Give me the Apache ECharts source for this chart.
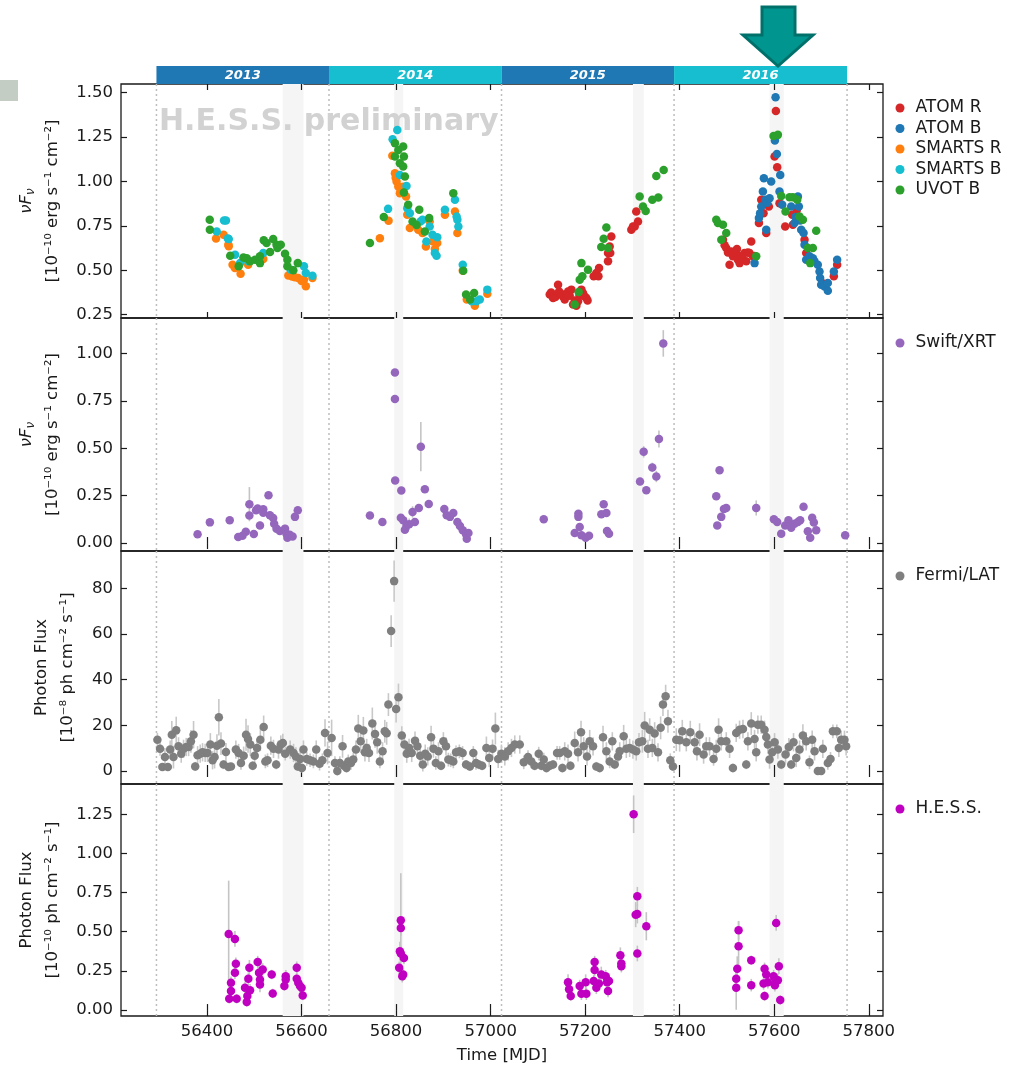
<!DOCTYPE html>
<html>
<head>
<meta charset="utf-8">
<script src="https://cdn.jsdelivr.net/npm/echarts@6/dist/echarts.min.js"></script>
<style>
html, body { margin: 0; padding: 0; background: #fff; }
#main { width: 1017px; height: 1065px; }
</style>
</head>
<body>
<div id="main"></div>
<script>
// x range and ticks (MJD)
var X_MIN = 56218, X_MAX = 57830;
var xTicks = [56400, 56600, 56800, 57000, 57200, 57400, 57600, 57800];
var yearStarts = [56293, 56658, 57023, 57388, 57754];
var yearNames = ['2013', '2014', '2015', '2016'];
var bands = [[56560, 56604], [56796, 56815], [57301, 57324], [57590, 57620]];

var yTicksOpt = [0.25, 0.5, 0.75, 1.0, 1.25, 1.5];
var yTicksXrt = [0, 0.25, 0.5, 0.75, 1.0];
var yTicksLat = [0, 20, 40, 60, 80];
var yTicksHess = [0, 0.25, 0.5, 0.75, 1.0, 1.25];

// optical: [MJD, nuFnu]
var atomR = [
  [57125, 0.363], [57128, 0.375], [57132, 0.344], [57137, 0.35], [57142.6, 0.419], [57144.7, 0.381],
  [57148, 0.37], [57153, 0.353], [57156.7, 0.335], [57160, 0.36], [57163.7, 0.381], [57167.3, 0.357],
  [57170.8, 0.391], [57174.3, 0.307], [57178, 0.33], [57181.4, 0.301], [57184.9, 0.325], [57188, 0.36],
  [57192, 0.391], [57195.4, 0.372], [57199, 0.353], [57202.5, 0.344], [57205, 0.33], [57218, 0.466],
  [57223.6, 0.484], [57228, 0.466], [57229.3, 0.512], [57248.3, 0.55], [57248.3, 0.597], [57251.8, 0.634],
  [57253, 0.597], [57255.3, 0.69], [57297.6, 0.727], [57301, 0.746], [57304.7, 0.746], [57308, 0.83],
  [57311.7, 0.774],
  [57491.4, 0.671], [57495, 0.64], [57498.4, 0.625], [57502, 0.6], [57505.4, 0.531], [57509, 0.606],
  [57512.5, 0.578], [57515, 0.6], [57519.5, 0.597], [57521, 0.62], [57523, 0.559], [57526.6, 0.54],
  [57530, 0.58], [57533.7, 0.559], [57537, 0.597], [57540.7, 0.55], [57544, 0.6], [57547.7, 0.597],
  [57551.3, 0.662], [57554.8, 0.578], [57558, 0.58], [57567.5, 0.765], [57572.4, 0.896], [57577.3, 0.821],
  [57583, 0.709], [57588.6, 0.858], [57600.6, 1.139], [57603.4, 1.395], [57606.2, 1.079], [57611.1, 0.877],
  [57623.1, 0.746], [57637.9, 0.812], [57639.3, 0.756], [57647.8, 0.84], [57664, 0.671], [57667.5, 0.597],
  [57701.3, 0.428], [57726, 0.466], [57733, 0.531]
];
var atomB = [
  [57558.3, 0.54], [57567.5, 0.793], [57570, 0.82], [57572.4, 0.858], [57575.9, 0.943], [57578, 1.017],
  [57581.5, 0.896], [57583, 0.727], [57585, 0.88], [57590, 0.905], [57593.5, 0.999], [57601.3, 1.229],
  [57602.7, 1.472], [57605.5, 1.154], [57611.1, 0.943], [57612.6, 1.036], [57616.8, 0.868], [57635.8, 0.858],
  [57642.8, 0.765], [57645, 0.8], [57649.9, 0.914], [57652, 0.858], [57655, 0.78], [57657, 0.727],
  [57662, 0.709], [57664, 0.643], [57667.5, 0.559], [57674.5, 0.578], [57681.6, 0.568], [57685, 0.55],
  [57692, 0.531], [57695.7, 0.493], [57697, 0.456], [57699.2, 0.419], [57706.3, 0.409], [57713.3, 0.385],
  [57713.3, 0.428], [57726, 0.493], [57733, 0.559]
];
var smartsR = [
  [56419, 0.679], [56435, 0.70], [56445, 0.643], [56446, 0.635], [56454, 0.531], [56459, 0.512],
  [56471, 0.48], [56487, 0.531], [56519, 0.563], [56572, 0.47], [56580, 0.465], [56586, 0.46],
  [56593, 0.456], [56600, 0.44], [56605, 0.447], [56609, 0.41], [56623, 0.456],
  [56765.7, 0.68], [56784, 0.778], [56792, 1.143], [56797.5, 1.045], [56799, 1.02], [56801, 0.999],
  [56804.6, 0.971], [56808, 0.933], [56810, 0.95], [56815, 0.97], [56821, 0.915], [56823.6, 0.812],
  [56829, 0.737], [56846.8, 0.727], [56855.8, 0.709], [56863, 0.634], [56871, 0.774], [56878, 0.662],
  [56882, 0.619], [56887, 0.653], [56903.3, 0.812], [56924.5, 0.83], [56929.6, 0.709], [56941, 0.497],
  [56949.5, 0.335], [56966.5, 0.301], [56993, 0.368]
];
var smartsB = [
  [56420.6, 0.718], [56436, 0.78], [56440, 0.78], [56444, 0.679], [56446, 0.675], [56459.3, 0.587],
  [56470, 0.54], [56487, 0.55], [56519, 0.597], [56577, 0.503], [56605, 0.522], [56609, 0.484],
  [56623, 0.469],
  [56783, 0.845], [56792.6, 1.236], [56802.5, 1.289], [56808, 1.036], [56822, 0.974], [56823.6, 0.849],
  [56829, 0.821], [56851.6, 0.774], [56855.8, 0.784], [56864, 0.662], [56871, 0.746], [56877, 0.70],
  [56882, 0.597], [56885.6, 0.582], [56887, 0.686], [56903.3, 0.84], [56924.5, 0.896], [56928, 0.802],
  [56929.6, 0.784], [56931.7, 0.746], [56941, 0.531], [56960, 0.325], [56970, 0.325], [56977, 0.335],
  [56993, 0.391]
];
var uvotB = [
  [56405.7, 0.784], [56406, 0.727], [56449, 0.582], [56467, 0.522], [56477, 0.572], [56484, 0.568],
  [56491, 0.55], [56501.6, 0.559], [56512, 0.54], [56512, 0.578], [56520, 0.668], [56526, 0.653],
  [56533.2, 0.602], [56540, 0.675], [56547, 0.643], [56549, 0.625], [56556, 0.643], [56565, 0.593],
  [56570, 0.559], [56570, 0.522], [56582.5, 0.5], [56592, 0.54],
  [56744.6, 0.653], [56774, 0.799], [56797.5, 1.214], [56797.5, 1.139], [56804.6, 1.176], [56808, 1.102],
  [56815, 1.195], [56816.5, 1.139], [56815, 1.083], [56818.6, 1.027], [56816.5, 0.937], [56825.6, 0.868],
  [56834.8, 0.774], [56843.3, 0.755], [56849, 0.84], [56860.8, 0.718], [56870, 0.793], [56921, 0.933],
  [56942, 0.497], [56948, 0.363], [56956.6, 0.335], [56965, 0.372],
  [57177.8, 0.307], [57186.3, 0.377], [57188.4, 0.447], [57192, 0.54], [57194, 0.466], [57206, 0.503],
  [57234, 0.63], [57239.1, 0.677], [57244.8, 0.74], [57248.3, 0.625], [57315.2, 0.914], [57322.3, 0.858],
  [57328, 0.833], [57342, 0.896], [57350.5, 1.03], [57354.7, 0.909], [57366, 1.064],
  [57477.3, 0.784], [57480.8, 0.765], [57488, 0.671], [57491.4, 0.756], [57498.4, 0.709], [57561.8, 0.578],
  [57598.5, 1.255], [57607.6, 1.261], [57614.7, 0.918], [57623.8, 0.83], [57632.3, 0.911], [57639.3, 0.911],
  [57648.5, 0.896], [57653.4, 0.802], [57660.5, 0.784], [57671, 0.625], [57676, 0.54], [57681.6, 0.625],
  [57688.7, 0.722]
];

// X-ray: [MJD, nuFnu, err]
var xrt = [
  [56380, 0.046, 0.01], [56406, 0.109, 0.01], [56448, 0.12, 0.01], [56466, 0.032, 0.01], [56475, 0.039, 0.01],
  [56482, 0.06, 0.01], [56489.6, 0.205, 0.09], [56489.6, 0.145, 0.02], [56499, 0.048, 0.01], [56503.7, 0.173, 0.02],
  [56507, 0.182, 0.02], [56512, 0.093, 0.02], [56519, 0.178, 0.02], [56519, 0.16, 0.02], [56530, 0.252, 0.02],
  [56533, 0.146, 0.02], [56540, 0.132, 0.02], [56542, 0.102, 0.02], [56547, 0.076, 0.02], [56554, 0.063, 0.01],
  [56565, 0.076, 0.02], [56568, 0.049, 0.01], [56570, 0.028, 0.01], [56575, 0.044, 0.01], [56581, 0.035, 0.01],
  [56586, 0.138, 0.02], [56592, 0.173, 0.02],
  [56744.6, 0.145, 0.01], [56771, 0.111, 0.01], [56797.5, 0.9, 0.01], [56797.5, 0.76, 0.01], [56798, 0.33, 0.01],
  [56811, 0.277, 0.01], [56810, 0.134, 0.01], [56815, 0.12, 0.01], [56818.6, 0.07, 0.01], [56822, 0.093, 0.01],
  [56827.6, 0.099, 0.03], [56834.8, 0.164, 0.03], [56839.7, 0.111, 0.02], [56848, 0.185, 0.02], [56852.3, 0.508, 0.13],
  [56860.8, 0.284, 0.01], [56869, 0.206, 0.01], [56902, 0.18, 0.01], [56907, 0.146, 0.01], [56914, 0.138, 0.01],
  [56921, 0.159, 0.01], [56929.6, 0.111, 0.01], [56935, 0.09, 0.02], [56941, 0.067, 0.02], [56948, 0.046, 0.01],
  [56953, 0.053, 0.01], [56949.5, 0.023, 0.01],
  [57112.3, 0.125, 0.01], [57177.8, 0.053, 0.01], [57185.6, 0.155, 0.01], [57185.6, 0.138, 0.01], [57188.4, 0.085, 0.01],
  [57192, 0.041, 0.01], [57201, 0.028, 0.01], [57208.1, 0.039, 0.01], [57234.2, 0.152, 0.01], [57239.1, 0.205, 0.01],
  [57244.8, 0.159, 0.01], [57246.2, 0.063, 0.01], [57250.4, 0.049, 0.01], [57316, 0.325, 0.02], [57323.7, 0.481, 0.03],
  [57329.3, 0.279, 0.01], [57342, 0.399, 0.025], [57350.5, 0.351, 0.03], [57356, 0.549, 0.045], [57365.2, 1.053, 0.07],
  [57477.3, 0.247, 0.01], [57479.4, 0.093, 0.01], [57484.3, 0.384, 0.01], [57487.8, 0.138, 0.01], [57493.5, 0.18, 0.01],
  [57498.4, 0.185, 0.01], [57561.8, 0.185, 0.04], [57599.2, 0.125, 0.01], [57606.2, 0.111, 0.01], [57614.7, 0.049, 0.01],
  [57623.1, 0.093, 0.01], [57630, 0.12, 0.01], [57635.8, 0.081, 0.01], [57642.8, 0.102, 0.01], [57649.9, 0.111, 0.01],
  [57654.8, 0.12, 0.01], [57661.9, 0.192, 0.01], [57671, 0.062, 0.01], [57676, 0.028, 0.01], [57680.2, 0.134, 0.01],
  [57683.7, 0.108, 0.01], [57688.7, 0.067, 0.01], [57750, 0.041, 0.01]
];

// Fermi/LAT: [MJD, flux, err]
var fermi = [
  [56295, 13.7, 3], [56300.6, 9.7, 3], [56305.6, 1.8, 1.5], [56311, 6.1, 4], [56317, 1.8, 1.5], [56322, 9.4, 4],
  [56325.5, 15.9, 6], [56329, 6.1, 5], [56334.8, 17.8, 6], [56339.7, 10.8, 4], [56345.4, 7.6, 4], [56350.3, 9.7, 4],
  [56356, 10.5, 4], [56361, 10.5, 4], [56366, 13, 5], [56371.5, 15.9, 6], [56375, 2, 2], [56380, 6.9, 4],
  [56385.6, 7.6, 4], [56390.5, 8.2, 4], [56396, 7.9, 4], [56401, 7.9, 4], [56407, 11.6, 5], [56411.7, 4.7, 4],
  [56416, 6.1, 5], [56421, 11.1, 5], [56425, 23.5, 8], [56429.5, 12, 5], [56435, 2.8, 2], [56440, 8.3, 4],
  [56445.6, 1.8, 1.5], [56450.6, 2, 1.5], [56461, 9.4, 4], [56466.8, 7.9, 4], [56471.8, 3.5, 3], [56477.5, 6.7, 4],
  [56482.5, 15.9, 7], [56486.7, 14, 6], [56491.6, 11.6, 5], [56496.6, 2.3, 2], [56500.8, 6.7, 4], [56505.7, 10.1, 4],
  [56512.8, 13.7, 5], [56519.8, 19.3, 5], [56523.4, 4.2, 3], [56528, 4.7, 3], [56535, 11.1, 4], [56540.6, 9.7, 4],
  [56546.3, 2.8, 2], [56551.2, 9.4, 4], [56556, 11.6, 4], [56560.4, 12.3, 4], [56565.4, 7.6, 3], [56575.9, 9.4, 4],
  [56583, 7.9, 4], [56588, 6.4, 4], [56592, 2, 2], [56597, 5.3, 4], [56600.6, 1.3, 2], [56604, 9.4, 4],
  [56611, 5.3, 3], [56618, 4.7, 3], [56625, 4.2, 3], [56631, 9.4, 4], [56638, 3.2, 3], [56644, 4.7, 3],
  [56649.6, 16.7, 6], [56655, 7.9, 5], [56663.6, 14.5, 8], [56670.6, 3.5, 3], [56675.6, 0, 2], [56681, 3.5, 3],
  [56686.7, 10.8, 5], [56690, 2.3, 2], [56695, 1.3, 2], [56698.8, 4.2, 3], [56704.4, 3.5, 3], [56709.4, 5, 3],
  [56715, 9.4, 4], [56720, 18.6, 6], [56725, 13, 5], [56730.7, 17.7, 6], [56734, 8.2, 4], [56737.7, 10.1, 4],
  [56742.6, 7.9, 4], [56749.7, 20.8, 7], [56755.4, 16.2, 6], [56760, 12.6, 5], [56765.7, 4.2, 3], [56771.3, 8.6, 4],
  [56776, 17.4, 5], [56780, 16.5, 5], [56783.7, 29.1, 5], [56789.5, 61.3, 7], [56795.8, 83.2, 9], [56800, 27.2, 6],
  [56805, 32.3, 6], [56812, 15.6, 4], [56817.6, 11.6, 4], [56822.5, 7.6, 4], [56827.4, 10.1, 4], [56833, 7.9, 4],
  [56840, 13.3, 4], [56845, 10.8, 4], [56851, 6.7, 3], [56856.5, 2.8, 3], [56861.6, 7.6, 4], [56867, 6.4, 4],
  [56874, 14.8, 5], [56879, 9.8, 4], [56884, 3.5, 3], [56889.6, 8.6, 4], [56895, 2.3, 2], [56900, 13, 4],
  [56905.5, 10.8, 4], [56910.5, 5, 3], [56915.5, 4.7, 3], [56921, 4.2, 3], [56926.8, 8.2, 3], [56933.8, 8.6, 3],
  [56940.7, 7.9, 3], [56948, 2.8, 2], [56956, 2, 2], [56963.3, 7.9, 3], [56969, 3.5, 3], [56975, 2.8, 2],
  [56982, 2.3, 2], [56991, 10.1, 5], [56997, 5.7, 4], [57004, 9.8, 4], [57010, 18.6, 7], [57016, 5.3, 4],
  [57022.8, 7.6, 4], [57030, 6.4, 4], [57037, 8.6, 4], [57044, 10.1, 4], [57051, 11.6, 4], [57061.6, 11.6, 4],
  [57070, 3.8, 3], [57079, 6.1, 3], [57086, 4.2, 3], [57093, 2.3, 2], [57101.7, 7.6, 3], [57107.4, 2.3, 2],
  [57112.3, 5, 3], [57118, 1.3, 2], [57125, 2.3, 2], [57132, 2.8, 2], [57140.5, 7.9, 3], [57146, 7.9, 3],
  [57151.8, 1.3, 2], [57156.7, 8.6, 4], [57163.7, 7.6, 4], [57168.7, 2.3, 2], [57177.8, 12.3, 5], [57184.9, 8.2, 4],
  [57191.2, 17, 5], [57196.8, 10.8, 4], [57203.9, 6.4, 4], [57209.5, 13, 5], [57216.6, 10.8, 4], [57223.6, 2, 2],
  [57230.7, 1.3, 2], [57237.7, 14.8, 5], [57244.8, 8.6, 4], [57251.8, 4.2, 3], [57257.4, 13, 4], [57262.4, 2.8, 2],
  [57269.4, 6.4, 4], [57273, 8.6, 4], [57281.4, 15.2, 5], [57287, 9.7, 4], [57294, 10.1, 4], [57301, 9.4, 4],
  [57308, 8.6, 4], [57313.8, 12.6, 4], [57320.9, 13, 5], [57325.8, 19.9, 6], [57332.8, 9.7, 4], [57336.4, 18.1, 5],
  [57342, 10.1, 4], [57346.9, 16.4, 5], [57354, 8.2, 4], [57359.6, 18.9, 5], [57364.5, 29.1, 5], [57370.2, 32.8, 5],
  [57375.1, 21.8, 5], [57380, 4.7, 3], [57385.7, 2, 2], [57392.7, 13.7, 5], [57399.8, 13.5, 5], [57405.4, 17.4, 5],
  [57413.9, 12.6, 4], [57422.3, 17, 5], [57431.5, 12.6, 4], [57436.4, 8.6, 4], [57442, 15.9, 5], [57450.5, 7.2, 4],
  [57456.1, 10.8, 4], [57463, 10.8, 4], [57471.6, 5.3, 3], [57477.3, 9.7, 4], [57482.2, 18.1, 5], [57487.8, 13, 4],
  [57498.4, 13, 4], [57505.5, 9.7, 4], [57512.5, 1.3, 2], [57519.5, 16.7, 4], [57526.6, 18.1, 4], [57533.7, 18.4, 4],
  [57540.7, 2.8, 2], [57544.2, 13, 4], [57551.3, 20.8, 5], [57558.3, 14, 4], [57561.8, 8.2, 4], [57565.3, 20.3, 4],
  [57572.4, 20.3, 4], [57579.4, 18.1, 4], [57583, 14.9, 4], [57586.5, 11.6, 4], [57590, 5, 4], [57595.6, 8.2, 4],
  [57600.6, 12.6, 4], [57607.6, 9.4, 4], [57614.7, 2.8, 2], [57623.8, 7.2, 4], [57630.8, 10.5, 4], [57635.8, 2.8, 2],
  [57640.7, 12.6, 4], [57646.4, 5.7, 4], [57653.4, 9.4, 4], [57660.5, 15.5, 5], [57667.5, 13, 4], [57674.5, 3.8, 3],
  [57680.2, 13.7, 4], [57685.2, 8.6, 4], [57692.2, 0, 1], [57699.2, 0, 1], [57702.7, 9.7, 4], [57713.3, 3.5, 3],
  [57719, 5.3, 3], [57724, 17.4, 3], [57732.3, 17.4, 3], [57736.6, 10.1, 4], [57741.5, 13.7, 4], [57748.5, 13.7, 4],
  [57752, 10.8, 4]
];

// H.E.S.S.: [MJD, flux, err]
var hess = [
  [56445.8, 0.486, 0.34], [56447, 0.072, 0.03], [56450.7, 0.174, 0.04], [56450.7, 0.121, 0.04], [56459, 0.454, 0.05],
  [56459, 0.238, 0.04], [56461, 0.295, 0.04], [56462.7, 0.072, 0.03], [56480.4, 0.142, 0.04], [56484, 0.051, 0.03],
  [56485.3, 0.089, 0.04], [56487.4, 0.2, 0.04], [56489.6, 0.27, 0.05], [56491, 0.127, 0.04], [56507.2, 0.306, 0.04],
  [56510, 0.238, 0.04], [56512, 0.195, 0.04], [56512, 0.163, 0.05], [56517.8, 0.259, 0.04], [56536.8, 0.227, 0.03],
  [56539, 0.106, 0.03], [56563.6, 0.153, 0.03], [56566.5, 0.195, 0.06], [56566.5, 0.216, 0.04], [56589.8, 0.27, 0.04],
  [56589.8, 0.2, 0.04], [56593, 0.174, 0.04], [56596.7, 0.153, 0.04], [56600, 0.142, 0.03], [56602.4, 0.093, 0.03],
  [56806.5, 0.27, 0.04], [56810, 0.573, 0.3], [56810, 0.524, 0.05], [56808, 0.376, 0.06], [56810, 0.361, 0.05],
  [56816.5, 0.333, 0.04], [56813, 0.216, 0.04], [56815, 0.227, 0.04],
  [57163.7, 0.178, 0.05], [57165.9, 0.132, 0.04], [57169.4, 0.089, 0.03], [57188.4, 0.153, 0.04], [57192, 0.104, 0.04],
  [57201, 0.178, 0.05], [57202.5, 0.104, 0.04], [57220, 0.306, 0.04], [57220, 0.255, 0.04], [57218, 0.185, 0.04],
  [57223.6, 0.142, 0.04], [57229, 0.17, 0.04], [57234, 0.227, 0.05], [57243.4, 0.216, 0.04], [57246.2, 0.178, 0.04],
  [57248.3, 0.121, 0.04], [57250.4, 0.185, 0.04], [57274.4, 0.35, 0.05], [57276.5, 0.297, 0.04], [57276.5, 0.28, 0.04],
  [57302.5, 1.25, 0.12], [57310.3, 0.726, 0.06], [57306.8, 0.609, 0.08], [57310.3, 0.613, 0.06], [57329.3, 0.535, 0.09],
  [57310.3, 0.361, 0.05],
  [57519.5, 0.2, 0.07], [57519.5, 0.142, 0.14], [57521.7, 0.263, 0.08], [57524.5, 0.407, 0.16], [57524.5, 0.509, 0.06],
  [57551.3, 0.318, 0.03], [57551.3, 0.159, 0.04], [57579.5, 0.263, 0.04], [57583, 0.227, 0.04], [57577.3, 0.17, 0.04],
  [57586.5, 0.178, 0.04], [57579.5, 0.089, 0.03], [57598.5, 0.216, 0.04], [57602.7, 0.195, 0.04], [57607.6, 0.19, 0.04],
  [57601.3, 0.159, 0.04], [57604, 0.556, 0.05], [57609.7, 0.28, 0.05], [57612.6, 0.064, 0.03]
];

var FONT = 'DejaVu Sans';
var INK = '#1a1a1a';

var panels = [
  {top: 84, height: 234, min: 0.2315, max: 1.547, ticks: yTicksOpt, dec: 2, gap: 55,
   name: '{i|νF}{s|ν}\n[10⁻¹⁰ erg s⁻¹ cm⁻²]'},
  {top: 318, height: 233, min: -0.042, max: 1.187, ticks: yTicksXrt, dec: 2, gap: 55,
   name: '{i|νF}{s|ν}\n[10⁻¹⁰ erg s⁻¹ cm⁻²]'},
  {top: 551, height: 233, min: -5.7, max: 96.4, ticks: yTicksLat, dec: 0, gap: 38,
   name: 'Photon Flux\n[10⁻⁸ ph cm⁻² s⁻¹]'},
  {top: 784, height: 233, min: -0.038, max: 1.443, ticks: yTicksHess, dec: 2, gap: 55,
   name: 'Photon Flux\n[10⁻¹⁰ ph cm⁻² s⁻¹]'}
];

var tickStyle = {show: true, inside: true, length: 6, lineStyle: {color: INK, width: 1.2}};

var grids = [{left: 121, width: 762, top: 66, height: 18}];
var xAxes = [{gridIndex: 0, type: 'value', min: X_MIN, max: X_MAX, show: false}];
var yAxes = [{gridIndex: 0, type: 'value', min: 0, max: 1, show: false}];

panels.forEach(function (p, k) {
  var gi = k + 1;
  grids.push({left: 121, width: 762, top: p.top, height: p.height, show: true,
    borderColor: INK, borderWidth: 1.3, backgroundColor: 'transparent'});
  var last = (k === panels.length - 1);
  xAxes.push({
    gridIndex: gi, type: 'value', position: 'bottom', min: X_MIN, max: X_MAX,
    axisLine: {show: false}, splitLine: {show: false},
    axisTick: Object.assign({customValues: xTicks}, tickStyle),
    axisLabel: {show: last, customValues: xTicks, margin: 7, color: INK, fontSize: 16.5, fontFamily: FONT,
      formatter: function (v) { return String(v); }},
    name: last ? 'Time [MJD]' : '', nameLocation: 'middle', nameGap: 31,
    nameTextStyle: {color: INK, fontSize: 16.5, fontFamily: FONT}
  });
  xAxes.push({
    gridIndex: gi, type: 'value', position: 'top', min: X_MIN, max: X_MAX,
    axisLine: {show: false}, splitLine: {show: false},
    axisTick: Object.assign({customValues: xTicks}, tickStyle),
    axisLabel: {show: false}
  });
  yAxes.push({
    gridIndex: gi, type: 'value', position: 'left', min: p.min, max: p.max,
    axisLine: {show: false}, splitLine: {show: false},
    axisTick: Object.assign({customValues: p.ticks}, tickStyle),
    axisLabel: {customValues: p.ticks, margin: 8, color: INK, fontSize: 16.5, fontFamily: FONT,
      formatter: (function (d) { return function (v) { return v.toFixed(d); }; })(p.dec)},
    name: p.name, nameLocation: 'middle', nameRotate: 90, nameGap: p.gap,
    nameTextStyle: {color: INK, fontSize: 16.5, fontFamily: FONT, lineHeight: 26, align: 'center',
      rich: {
        i: {fontStyle: 'italic', fontSize: 16.5, fontFamily: FONT, color: INK, lineHeight: 26},
        s: {fontStyle: 'italic', fontSize: 12, fontFamily: FONT, color: INK, lineHeight: 12,
          verticalAlign: 'bottom', padding: [0, 0, 2, 0]}
      }}
  });
  yAxes.push({
    gridIndex: gi, type: 'value', position: 'right', min: p.min, max: p.max,
    axisLine: {show: false}, splitLine: {show: false},
    axisTick: Object.assign({customValues: p.ticks}, tickStyle),
    axisLabel: {show: false}
  });
});

function bandRender(params, api) {
  var cs = params.coordSys;
  var a = api.coord([api.value(0), 0]);
  var b = api.coord([api.value(1), 0]);
  return {type: 'rect', shape: {x: a[0], y: cs.y, width: b[0] - a[0], height: cs.height},
    style: {fill: '#f5f5f5'}};
}
function yearLineRender(params, api) {
  var cs = params.coordSys;
  var p = api.coord([api.value(0), 0]);
  return {type: 'line', shape: {x1: p[0], y1: cs.y, x2: p[0], y2: cs.y + cs.height},
    style: {stroke: '#bdbdbd', lineWidth: 1.5, lineDash: [2, 3]}};
}
function errRender(color) {
  return function (params, api) {
    var x = api.value(0), y = api.value(1), e = api.value(2);
    var a = api.coord([x, y - e]);
    var b = api.coord([x, y + e]);
    return {type: 'line', shape: {x1: a[0], y1: a[1], x2: b[0], y2: b[1]},
      style: {stroke: color, lineWidth: 1.6}};
  };
}
function yearBarRender(params, api) {
  var cs = params.coordSys;
  var a = api.coord([api.value(0), 0]);
  var b = api.coord([api.value(1), 0]);
  var i = params.dataIndex;
  return {type: 'group', children: [
    {type: 'rect', shape: {x: a[0], y: cs.y, width: b[0] - a[0], height: cs.height},
      style: {fill: i % 2 === 0 ? '#1f77b4' : '#17becf'}},
    {type: 'text', style: {text: yearNames[i], x: (a[0] + b[0]) / 2, y: cs.y + cs.height / 2 + 1,
      align: 'center', verticalAlign: 'middle', fill: '#ffffff',
      font: 'italic bold 13px "DejaVu Sans"'}}
  ]};
}

var series = [{
  type: 'custom', name: 'years', xAxisIndex: 0, yAxisIndex: 0, silent: true,
  renderItem: yearBarRender,
  data: yearNames.map(function (n, i) { return [yearStarts[i], yearStarts[i + 1]]; })
}];

panels.forEach(function (p, k) {
  var ax = 2 * k + 1;
  series.push({type: 'custom', xAxisIndex: ax, yAxisIndex: ax, z: 0, silent: true,
    renderItem: bandRender, data: bands});
  series.push({type: 'custom', xAxisIndex: ax, yAxisIndex: ax, z: 0, silent: true,
    renderItem: yearLineRender, data: yearStarts.map(function (v) { return [v, 0]; })});
});

function scatter(name, data, color, ax) {
  return {type: 'scatter', name: name, data: data, xAxisIndex: ax, yAxisIndex: ax,
    symbolSize: 8.5, itemStyle: {color: color, opacity: 1}, z: 3, silent: true};
}
function errors(data, ax, color) {
  return {type: 'custom', xAxisIndex: ax, yAxisIndex: ax, z: 1, silent: true,
    encode: {x: 0, y: 1}, renderItem: errRender(color), data: data};
}

series.push(scatter('ATOM R', atomR, '#d62728', 1));
series.push(scatter('ATOM B', atomB, '#1f77b4', 1));
series.push(scatter('SMARTS R', smartsR, '#ff7f0e', 1));
series.push(scatter('SMARTS B', smartsB, '#17becf', 1));
series.push(scatter('UVOT B', uvotB, '#2ca02c', 1));
series.push(errors(xrt, 3, '#c4c4c4'));
series.push(scatter('Swift/XRT', xrt, '#9467bd', 3));
series.push(errors(fermi, 5, '#c8c8c8'));
series.push(scatter('Fermi/LAT', fermi, '#7f7f7f', 5));
series.push(errors(hess, 7, '#c4c4c4'));
series.push(scatter('H.E.S.S.', hess, '#c000c0', 7));

function legend(names, top) {
  return {data: names, orient: 'vertical', left: 895.5, top: top, padding: 0,
    icon: 'circle', itemWidth: 9, itemHeight: 9, itemGap: 3.5, selectedMode: false,
    textStyle: {color: INK, fontSize: 17, lineHeight: 17, fontFamily: FONT, padding: [0, 0, 0, 6]}};
}

var option = {
  animation: false,
  backgroundColor: '#ffffff',
  textStyle: {fontFamily: FONT},
  grid: grids,
  xAxis: xAxes,
  yAxis: yAxes,
  legend: [
    legend(['ATOM R', 'ATOM B', 'SMARTS R', 'SMARTS B', 'UVOT B'], 99.5),
    legend(['Swift/XRT'], 334.5),
    legend(['Fermi/LAT'], 567.5),
    legend(['H.E.S.S.'], 800.5)
  ],
  graphic: [
    {type: 'rect', left: 0, top: 80, shape: {width: 18, height: 21}, style: {fill: '#c3cdc3'}, z: 0},
    {type: 'text', left: 159, top: 107, z: 1, silent: true,
      style: {text: 'H.E.S.S. preliminary', fill: '#d2d2d2', font: 'bold 30px "DejaVu Sans"'}},
    {type: 'polygon', z: 100,
      shape: {points: [[762, 7], [795, 7], [795, 35], [813, 35], [778, 66], [743, 35], [762, 35]]},
      style: {fill: '#00968f', stroke: '#00706b', lineWidth: 3, lineJoin: 'miter'}}
  ],
  series: series
};

var myChart = echarts.init(document.getElementById('main'));
myChart.setOption(option);
</script>
</body>
</html>
